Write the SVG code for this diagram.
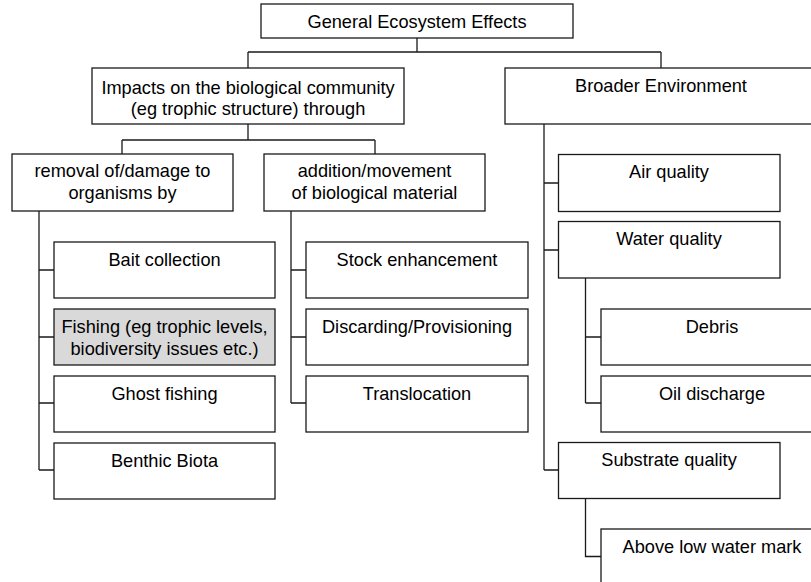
<svg xmlns="http://www.w3.org/2000/svg" width="811" height="582" viewBox="0 0 811 582">
  <style>
    .box { fill: #ffffff; stroke: #1a1a1a; stroke-width: 1.3; }
    .shaded { fill: #d9d9d9; }
    .lbl { font-family: "Liberation Sans", Arial, sans-serif; font-size: 18.2px; fill: #000000; text-anchor: middle; }
    .conn { fill: none; stroke: #1a1a1a; stroke-width: 1.3; }
  </style>
  <rect width="811" height="582" fill="#ffffff"/>

  <!-- tree connectors -->
  <g id="connectors">
    <path class="conn" d="M417 38 V52 M248 52 H661 M248 52 V68 M661 52 V68"/>
    <path class="conn" d="M248 124 V140 M122 140 H375 M122 140 V154 M375 140 V154"/>
    <path class="conn" d="M39 211 V470 M39 270 H54 M39 337 H54 M39 403 H54 M39 470 H54"/>
    <path class="conn" d="M291 211 V403 M291 270 H306 M291 337 H306 M291 403 H306"/>
    <path class="conn" d="M544 124 V470 M544 183 H558.5 M544 250 H558.5 M544 470 H558.5"/>
    <path class="conn" d="M585.5 278 V403 M585.5 337 H601 M585.5 403 H601"/>
    <path class="conn" d="M585.5 498.5 V556.5 H601"/>
  </g>

  <g id="general">
    <rect class="box" x="261" y="4" width="312" height="34"/>
    <text class="lbl" x="417" y="27.5">General Ecosystem Effects</text>
  </g>

  <g id="impacts">
    <rect class="box" x="92" y="68" width="312" height="56"/>
    <text class="lbl" x="248" y="93.5">Impacts on the biological community</text>
    <text class="lbl" x="248" y="115">(eg trophic structure) through</text>
  </g>

  <g id="broader">
    <rect class="box" x="505" y="68" width="312" height="56"/>
    <text class="lbl" x="661" y="92">Broader Environment</text>
  </g>

  <g id="removal">
    <rect class="box" x="12" y="154" width="221" height="57"/>
    <text class="lbl" x="122.5" y="177">removal of/damage to</text>
    <text class="lbl" x="122.5" y="198.5">organisms by</text>
  </g>

  <g id="addition">
    <rect class="box" x="264" y="154" width="221" height="57"/>
    <text class="lbl" x="374.5" y="177">addition/movement</text>
    <text class="lbl" x="374.5" y="198.5">of biological material</text>
  </g>

  <g id="bait">
    <rect class="box" x="54" y="242" width="221" height="56"/>
    <text class="lbl" x="164.5" y="265.5">Bait collection</text>
  </g>

  <g id="fishing">
    <rect class="box shaded" x="54" y="309" width="221" height="56"/>
    <text class="lbl" x="164.5" y="333">Fishing (eg trophic levels,</text>
    <text class="lbl" x="164.5" y="354.5">biodiversity issues etc.)</text>
  </g>

  <g id="ghost">
    <rect class="box" x="54" y="376" width="221" height="56"/>
    <text class="lbl" x="164.5" y="399.5">Ghost fishing</text>
  </g>

  <g id="benthic">
    <rect class="box" x="54" y="443" width="221" height="56"/>
    <text class="lbl" x="164.5" y="466.5">Benthic Biota</text>
  </g>

  <g id="stock">
    <rect class="box" x="306" y="242" width="222" height="56"/>
    <text class="lbl" x="417" y="265.5">Stock enhancement</text>
  </g>

  <g id="discarding">
    <rect class="box" x="306" y="309" width="222" height="56"/>
    <text class="lbl" x="417" y="332.5">Discarding/Provisioning</text>
  </g>

  <g id="translocation">
    <rect class="box" x="306" y="376" width="222" height="56"/>
    <text class="lbl" x="417" y="399.5">Translocation</text>
  </g>

  <g id="air">
    <rect class="box" x="558.5" y="154.5" width="221.5" height="57"/>
    <text class="lbl" x="669" y="178">Air quality</text>
  </g>

  <g id="water">
    <rect class="box" x="558.5" y="221.5" width="221.5" height="56.5"/>
    <text class="lbl" x="669" y="245">Water quality</text>
  </g>

  <g id="debris">
    <rect class="box" x="601" y="309" width="222" height="56"/>
    <text class="lbl" x="712" y="332.5">Debris</text>
  </g>

  <g id="oil">
    <rect class="box" x="601" y="376" width="222" height="56"/>
    <text class="lbl" x="712" y="399.5">Oil discharge</text>
  </g>

  <g id="substrate">
    <rect class="box" x="558.5" y="442.5" width="221.5" height="56"/>
    <text class="lbl" x="669" y="466">Substrate quality</text>
  </g>

  <g id="above-low-water">
    <rect class="box" x="601" y="529" width="222" height="56"/>
    <text class="lbl" x="712" y="552.5">Above low water mark</text>
  </g>
</svg>
